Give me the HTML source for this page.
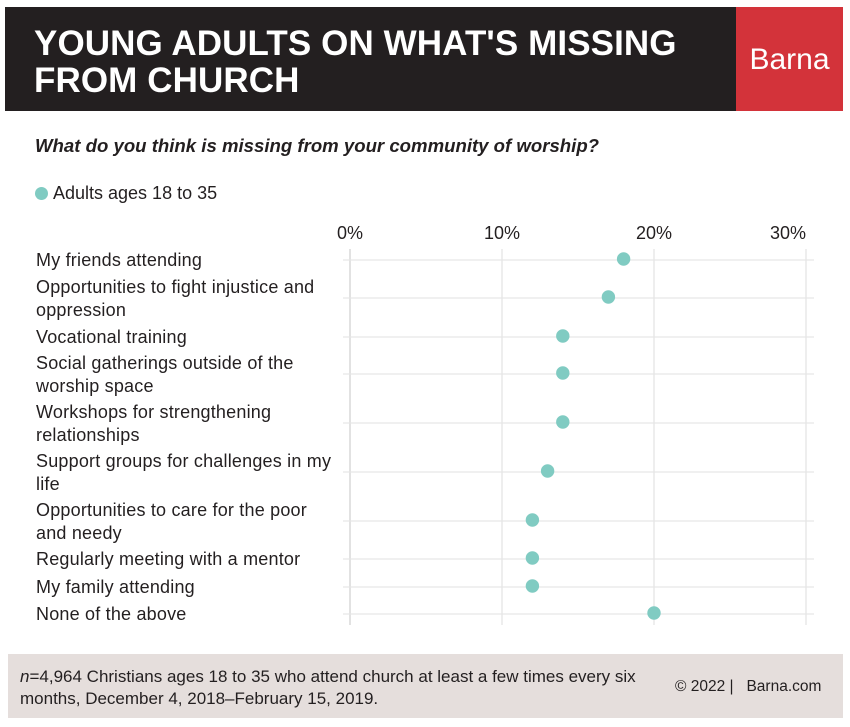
<!DOCTYPE html>
<html><head><meta charset="utf-8"><style>
body{margin:0;width:850px;height:727px;background:#fff;font-family:"Liberation Sans",sans-serif;position:relative;overflow:hidden}
.abs{position:absolute}
</style></head><body>
<div class="abs" style="left:5px;top:7px;width:731px;height:104px;background:#231f20"></div>
<div class="abs" style="left:34px;top:25px;color:#fff;font-weight:bold;font-size:35px;line-height:37px;letter-spacing:0.1px">YOUNG ADULTS ON WHAT'S MISSING<br>FROM CHURCH</div>
<div class="abs" style="left:736px;top:7px;width:107px;height:104px;background:#d3333a"></div>
<div class="abs" style="left:736px;top:43px;width:107px;text-align:center;color:#fff;font-size:30px">Barna</div>
<div class="abs" style="left:35px;top:135px;font-size:18.6px;font-style:italic;font-weight:bold;color:#231f20">What do you think is missing from your community of worship?</div>
<div class="abs" style="left:35px;top:183px;font-size:18px;color:#231f20"><span style="display:inline-block;width:13px;height:13px;border-radius:50%;background:#80cbc2;vertical-align:-1px;margin-right:5px"></span>Adults ages 18 to 35</div>
<svg class="abs" style="left:0;top:0" width="850" height="727"></svg>
<div class="abs" style="left:8px;top:654px;width:835px;height:64px;background:#e5dedc"></div>
<div class="abs" style="left:20px;top:666px;font-size:17px;line-height:22px;color:#231f20"><i>n</i>=4,964 Christians ages 18 to 35 who attend church at least a few times every six<br>months, December 4, 2018–February 15, 2019.</div>
<div class="abs" style="left:675px;top:678px;font-size:15.5px;color:#231f20">© 2022 |&nbsp;&nbsp; Barna.com</div>
<script>
const categories=["My friends attending","Opportunities to fight injustice and|oppression","Vocational training","Social gatherings outside of the|worship space","Workshops for strengthening|relationships","Support groups for challenges in my|life","Opportunities to care for the poor|and needy","Regularly meeting with a mentor","My family attending","None of the above"];
const values=[18,17,14,14,14,13,12,12,12,20];
const tickValues=[0,10,20,30];
const tickLabels=["0%","10%","20%","30%"];
const rowY=[260,298,337,374,423,472,521,559,587,614];
const svg=document.querySelector('svg');
const NS='http://www.w3.org/2000/svg';
const x=v=>350+v*15.2;
function mk(t,a){const e=document.createElementNS(NS,t);for(const k in a)e.setAttribute(k,a[k]);svg.appendChild(e);return e;}
tickValues.forEach((v,i)=>{
 const l=mk('line',{x1:x(v),x2:x(v),y1:249,y2:625,stroke:'#e2e2e2','stroke-width':v===0?2:1.2});
 
 
 const last=i===tickValues.length-1;
 const t=mk('text',{x:x(v),y:239,'text-anchor':last?'end':'middle','font-size':18,fill:'#231f20','font-family':'Liberation Sans'});
 t.textContent=tickLabels[i];
 
 
});
categories.forEach((c,i)=>{
 const y=rowY[i];
 const l=mk('line',{x1:343,x2:814,y1:y,y2:y,stroke:'#e6e6e6','stroke-width':1.3});
 
 
 const parts=c.split('|');
 parts.forEach((p,j)=>{
  const ty=parts.length===1?y+6:y-5+j*23;
  const t=mk('text',{x:36,y:ty,'font-size':18,'letter-spacing':0.2,fill:'#231f20','font-family':'Liberation Sans'});
  t.textContent=p;
  
  
 });
 const d=mk('circle',{cx:x(values[i]),cy:y-1,r:6.7,fill:'#80cbc2'});
 
 
});
</script>
</body></html>
